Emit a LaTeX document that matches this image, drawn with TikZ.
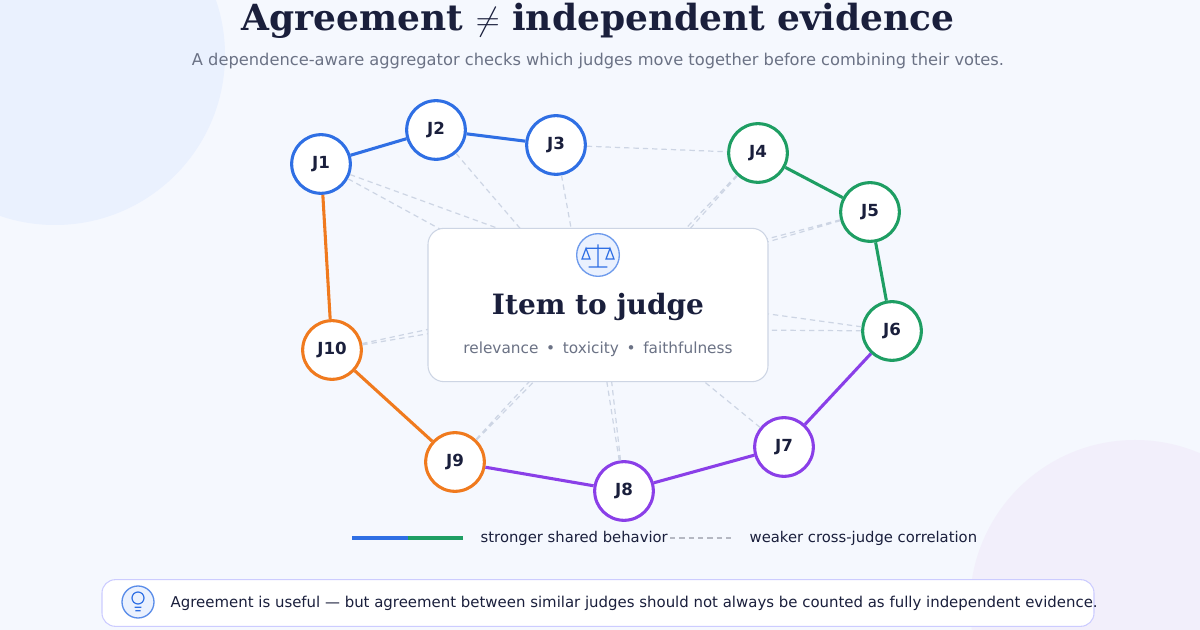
\documentclass[tikz,border=0pt]{standalone}
\usepackage{fontspec}
\setmainfont{DejaVu Sans}
\newfontfamily\titlefont{DejaVu Serif}
\usetikzlibrary{positioning}
\definecolor{bgcol}{HTML}{F5F8FE}
\definecolor{inkcol}{HTML}{1A1F3C}
\definecolor{greycol}{HTML}{6B7285}
\definecolor{dashcol}{HTML}{CDD5E4}
\definecolor{jblue}{HTML}{2F6FE4}
\definecolor{jgreen}{HTML}{1E9E63}
\definecolor{jorange}{HTML}{F07A1E}
\definecolor{jpurple}{HTML}{8A3FE8}
\definecolor{blobblue}{HTML}{EAF1FE}
\definecolor{blobviolet}{HTML}{F2EFFB}
\tikzset{
  judge/.style={circle,draw=#1,line width=2.3pt,fill=white,minimum size=44pt,
                inner sep=0pt,font=\bfseries\fontsize{12.5}{14}\selectfont,text=inkcol},
  strong/.style={draw=#1,line width=2.3pt},
  weak/.style={draw=dashcol,line width=0.9pt,dash pattern=on 4pt off 3pt}
}
\begin{document}
\begin{tikzpicture}[x=0.75pt,y=-0.75pt]
  \fill[bgcol] (0,0) rectangle (1200,630);
  \useasboundingbox (0,0) rectangle (1200,630);
  \begin{scope}
    \clip (0,0) rectangle (1200,630);
    \fill[blobblue] (55,55) circle (170);
    \fill[blobviolet] (1135,605) circle (165);
  \end{scope}

  \node[font=\titlefont\bfseries\fontsize{27}{30}\selectfont,text=inkcol] (title) at (598,21)
    {Agreement $\neq$ independent evidence};
  \node[font=\fontsize{12.2}{14}\selectfont,text=greycol] (sub) at (598,61)
    {A dependence-aware aggregator checks which judges move together before combining their votes.};

  % judges
  \node[judge=jblue]   (J1)  at (321,164) {J1};
  \node[judge=jblue]   (J2)  at (436,130) {J2};
  \node[judge=jblue]   (J3)  at (556,145) {J3};
  \node[judge=jgreen]  (J4)  at (758,153) {J4};
  \node[judge=jgreen]  (J5)  at (870,212) {J5};
  \node[judge=jgreen]  (J6)  at (892,331) {J6};
  \node[judge=jpurple] (J7)  at (784,447) {J7};
  \node[judge=jpurple] (J8)  at (624,491) {J8};
  \node[judge=jorange] (J9)  at (455,462) {J9};
  \node[judge=jorange] (J10) at (332,350) {J10};

  % weak links (hidden under the card)
  \coordinate (c1) at (530,240);  \coordinate (c2) at (460,240);
  \coordinate (c3) at (575,250);  \coordinate (c4) at (670,245);
  \coordinate (c5) at (740,250);  \coordinate (c6) at (740,310);
  \coordinate (c7) at (450,330);  \coordinate (c8) at (540,370);
  \coordinate (c9) at (605,370);  \coordinate (c10) at (690,370);
  \path[weak] (J1) -- (c1) (J1) -- (c2) (J2) -- (c1) (J3) -- (c3)
    (J3) -- (J4) (J4) -- (c4) (J4) -- ([xshift=4pt]c4) (J5) -- (c5) (J5) -- ([yshift=3pt]c5)
    (J6) -- (c6) (J6) -- ([yshift=-15pt]c6) (J10) -- (c7) (J10) -- ([yshift=4pt]c7)
    (J9) -- (c8) (J9) -- ([xshift=4pt]c8) (J8) -- (c9) (J8) -- ([xshift=4pt]c9) (J7) -- (c10);

  % card
  \node[draw=dashcol,fill=white,rounded corners=12pt,line width=0.8pt,
        minimum width=255pt,minimum height=115pt] (card) at (598,305) {};
  \node[circle,draw=jblue!70,fill=blobblue,line width=1pt,minimum size=32pt,inner sep=0pt] (icon) at (598,255) {};
  \draw[jblue,line width=0.9pt] ([yshift=-9pt]icon.center) -- ([yshift=8pt]icon.center)
    ([xshift=-9pt,yshift=5pt]icon.center) -- ([xshift=9pt,yshift=5pt]icon.center)
    ([xshift=-7pt,yshift=-9pt]icon.center) -- ([xshift=7pt,yshift=-9pt]icon.center)
    ([xshift=-12pt,yshift=-3pt]icon.center) -- ([xshift=-9pt,yshift=5pt]icon.center) -- ([xshift=-6pt,yshift=-3pt]icon.center) -- cycle
    ([xshift=6pt,yshift=-3pt]icon.center) -- ([xshift=9pt,yshift=5pt]icon.center) -- ([xshift=12pt,yshift=-3pt]icon.center) -- cycle;
  \node[font=\titlefont\bfseries\fontsize{21}{24}\selectfont,text=inkcol] (item) at (598,307) {Item to judge};
  \node[font=\fontsize{11.5}{13}\selectfont,text=greycol] (dims) at (598,349)
    {relevance\enspace\textbullet\enspace toxicity\enspace\textbullet\enspace faithfulness};

  % strong links
  \draw[strong=jblue] (J1) -- (J2) (J2) -- (J3);
  \draw[strong=jgreen] (J4) -- (J5) (J5) -- (J6);
  \draw[strong=jpurple] (J6) -- (J7) (J7) -- (J8) (J8) -- (J9);
  \draw[strong=jorange] (J9) -- (J10) (J10) -- (J1);

  % legend
  \coordinate (l1) at (352,538); \coordinate (l2) at (408,538); \coordinate (l3) at (463,538);
  \draw[strong=jblue] (l1) -- (l2);
  \draw[strong=jgreen] (l2) -- (l3);
  \node[anchor=west,font=\fontsize{11.1}{13}\selectfont,text=inkcol] (lstrong) at (476,538) {stronger shared behavior};
  \coordinate (d1) at (670,538); \coordinate (d2) at (735,538);
  \draw[weak,draw=greycol!50] (d1) -- (d2);
  \node[anchor=west,font=\fontsize{11.1}{13}\selectfont,text=inkcol] (lweak) at (745,538) {weaker cross-judge correlation};

  % note
  \node[draw=blue!20,fill=white,rounded corners=10pt,line width=0.8pt,
        minimum width=744pt,minimum height=35pt] (note) at (598,603) {};
  \node[circle,draw=jblue!80,fill=blobblue,line width=1pt,minimum size=24pt] (bulb) at (138,602) {};
  \draw[jblue,line width=0.9pt] ([yshift=3pt]bulb.center) circle (4.5pt)
    ([xshift=-2.5pt,yshift=-4pt]bulb.center) -- ([xshift=2.5pt,yshift=-4pt]bulb.center)
    ([xshift=-2pt,yshift=-6.5pt]bulb.center) -- ([xshift=2pt,yshift=-6.5pt]bulb.center);
  \node[anchor=west,font=\fontsize{11.2}{13}\selectfont,text=inkcol] (notetext) at (166,603)
    {Agreement is useful --- but agreement between similar judges should not always be counted as fully independent evidence.};
\end{tikzpicture}
\end{document}
